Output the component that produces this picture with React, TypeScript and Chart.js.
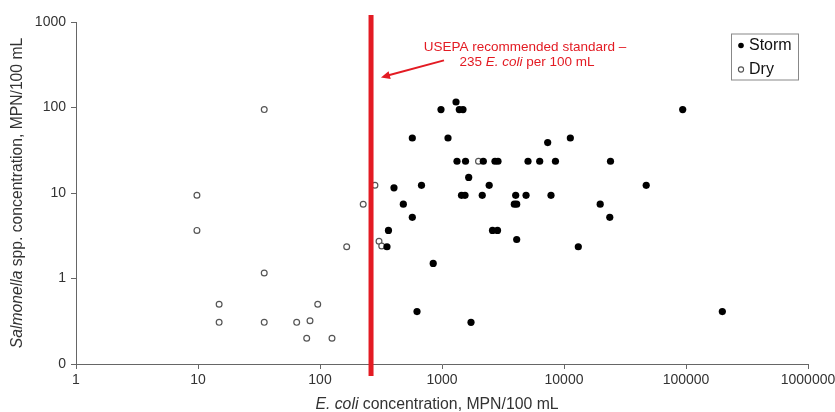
import React, { useEffect, useRef } from "react";
import { Chart, registerables } from "chart.js";

Chart.register(...registerables);

// Axis ticks
const xTicks = [1, 10, 100, 1000, 10000, 100000, 1000000];
const yTicks = [0.1, 1, 10, 100, 1000];
const yTickLabels = ["0", "1", "10", "100", "1000"];

// Storm samples: E. coli (x) and Salmonella (y), MPN/100 mL
const stormX = [
  1303, 981, 1386, 1486, 93970, 571, 1120, 7350, 11270, 1327, 1559, 2181, 2718, 2877, 5070, 6322,
  8511, 24050, 1655, 404, 679, 2437, 47200, 1445, 1544, 2137, 4018, 4885, 7823, 482, 3915, 4095,
  19800, 23730, 364, 2594, 2851, 4095, 354, 13100, 847, 624, 1729, 198500, 571,
];
const stormY = [
  116, 94.5, 94.5, 94.5, 94.5, 44, 44, 38.9, 44, 23.5, 23.5, 23.5, 23.5, 23.5, 23.5, 23.5,
  23.5, 23.5, 15.2, 11.5, 12.3, 12.3, 12.3, 9.4, 9.4, 9.4, 9.4, 9.4, 9.4, 7.4, 7.4, 7.4,
  7.4, 5.2, 3.65, 3.65, 3.65, 2.86, 2.35, 2.35, 1.5, 0.41, 0.307, 0.41, 5.2,
];

// Dry weather samples
const dryX = [34.9, 9.8, 226, 282, 9.8, 165.5, 304.6, 320.5, 34.9, 14.9, 95.8, 14.9, 34.9, 64.4, 82.8, 77.8, 125.4, 1991];
const dryY = [94.5, 9.4, 7.4, 12.3, 3.65, 2.35, 2.73, 2.4, 1.16, 0.5, 0.5, 0.307, 0.307, 0.307, 0.32, 0.2, 0.2, 23.5];

// USEPA standard line (drawn position) and annotation anchors (data coords)
const standardLine = 262;
const arrowTip = { x: 316, y: 225 };
const arrowTail = { x: 1038, y: 356 };
const noteLine1 = { x: 4790, y: 519 };
const noteLine2 = { x: 4790, y: 337 };

const RED = "#e31b23";
const TEXT = "#333333";
const AXIS = "#666666";
const FONT = "Liberation Sans, Arial, Helvetica, sans-serif";

type Seg = { t: string; italic?: boolean };

function drawSegs(ctx: CanvasRenderingContext2D, segs: Seg[], size: number, cx: number, cy: number, align: "center" | "left") {
  const widths = segs.map((s) => {
    ctx.font = `${s.italic ? "italic " : ""}${size}px ${FONT}`;
    return ctx.measureText(s.t).width;
  });
  const total = widths.reduce((a, b) => a + b, 0);
  let x = align === "center" ? cx - total / 2 : cx;
  ctx.textBaseline = "middle";
  ctx.textAlign = "left";
  segs.forEach((s, i) => {
    ctx.font = `${s.italic ? "italic " : ""}${size}px ${FONT}`;
    ctx.fillText(s.t, x, cy);
    x += widths[i];
  });
}

const overlayPlugin = {
  id: "overlay",
  afterDatasetsDraw(chart: any) {
    const { ctx, chartArea, scales } = chart;
    const xs = scales.x;
    const ys = scales.y;
    ctx.save();
    // red standard line
    const lx = xs.getPixelForValue(standardLine);
    ctx.fillStyle = RED;
    ctx.fillRect(lx - 2.5, chartArea.top - 7, 5, chartArea.bottom - chartArea.top + 19);

    // arrow
    const tx = xs.getPixelForValue(arrowTip.x);
    const ty = ys.getPixelForValue(arrowTip.y);
    const sx = xs.getPixelForValue(arrowTail.x);
    const sy = ys.getPixelForValue(arrowTail.y);
    const ang = Math.atan2(ty - sy, tx - sx);
    ctx.strokeStyle = RED;
    ctx.lineWidth = 2;
    ctx.beginPath();
    ctx.moveTo(sx, sy);
    ctx.lineTo(tx - 6 * Math.cos(ang), ty - 6 * Math.sin(ang));
    ctx.stroke();
    ctx.beginPath();
    ctx.moveTo(tx, ty);
    ctx.lineTo(tx - 9 * Math.cos(ang) + 4 * Math.sin(ang), ty - 9 * Math.sin(ang) - 4 * Math.cos(ang));
    ctx.lineTo(tx - 9 * Math.cos(ang) - 4 * Math.sin(ang), ty - 9 * Math.sin(ang) + 4 * Math.cos(ang));
    ctx.closePath();
    ctx.fill();

    // annotation text
    ctx.fillStyle = RED;
    drawSegs(ctx, [{ t: "USEPA recommended standard \u2013" }], 13.5, xs.getPixelForValue(noteLine1.x), ys.getPixelForValue(noteLine1.y) + 0.5, "center");
    drawSegs(ctx, [{ t: "235 " }, { t: "E. coli", italic: true }, { t: " per 100 mL" }], 13.5, xs.getPixelForValue(noteLine2.x) + 2, ys.getPixelForValue(noteLine2.y), "center");

    // legend box
    const bx = chartArea.right - 77;
    const by = chartArea.top + 11.5;
    ctx.strokeStyle = "#888888";
    ctx.lineWidth = 1;
    ctx.strokeRect(bx + 0.5, by + 0.5, 67, 46);
    ctx.fillStyle = "#000";
    ctx.beginPath();
    ctx.arc(bx + 10, by + 12, 2.8, 0, Math.PI * 2);
    ctx.fill();
    ctx.strokeStyle = "#555";
    ctx.lineWidth = 1.1;
    ctx.beginPath();
    ctx.arc(bx + 10, by + 36, 2.6, 0, Math.PI * 2);
    ctx.stroke();
    ctx.fillStyle = "#111";
    drawSegs(ctx, [{ t: "Storm" }], 16, bx + 18, by + 12, "left");
    drawSegs(ctx, [{ t: "Dry" }], 16, bx + 18, by + 36, "left");

    // axis titles
    ctx.fillStyle = TEXT;
    drawSegs(
      ctx,
      [{ t: "E. coli", italic: true }, { t: " concentration, MPN/100 mL" }],
      15.8,
      (chartArea.left + chartArea.right) / 2 - 5,
      chartArea.bottom + 41,
      "center"
    );
    ctx.translate(18, (chartArea.top + chartArea.bottom) / 2);
    ctx.rotate(-Math.PI / 2);
    drawSegs(ctx, [{ t: "Salmonella", italic: true }, { t: " spp. concentration, MPN/100 mL" }], 15.7, 0, 0, "center");
    ctx.restore();
  },
};

export default function App() {
  const ref = useRef<HTMLCanvasElement | null>(null);
  useEffect(() => {
    if (!ref.current) return;
    const storm = stormX.map((x, i) => ({ x, y: stormY[i] }));
    const dry = dryX.map((x, i) => ({ x, y: dryY[i] }));
    const chart = new Chart(ref.current, {
      type: "scatter",
      data: {
        datasets: [
          {
            label: "Storm",
            data: storm,
            pointRadius: 3.6,
            pointBackgroundColor: "#000",
            pointBorderColor: "#000",
            pointBorderWidth: 0,
          },
          {
            label: "Dry",
            data: dry,
            pointRadius: 2.9,
            pointBackgroundColor: "#fff",
            pointBorderColor: "#555",
            pointBorderWidth: 1.2,
          },
        ],
      },
      options: {
        animation: false,
        responsive: false,
        layout: { padding: { top: 22, right: 27, left: 0, bottom: 0 } },
        plugins: { legend: { display: false }, tooltip: { enabled: false }, title: { display: false } },
        scales: {
          x: {
            type: "logarithmic",
            min: 1,
            max: 1000000,
            afterBuildTicks: (s: any) => {
              s.ticks = xTicks.map((v) => ({ value: v }));
            },
            afterFit: (s: any) => {
              s.height = 48;
              s.paddingLeft = 0;
              s.paddingRight = 0;
            },
            ticks: {
              autoSkip: false,
              maxRotation: 0,
              padding: 3,
              color: TEXT,
              font: { family: FONT, size: 14 },
              callback: (v: any) => String(v),
            },
            grid: { drawOnChartArea: false, drawTicks: true, tickLength: 5, color: AXIS },
            border: { display: true, color: AXIS, width: 1 },
          },
          y: {
            type: "logarithmic",
            min: 0.1,
            max: 1000,
            afterBuildTicks: (s: any) => {
              s.ticks = yTicks.map((v) => ({ value: v }));
            },
            afterFit: (s: any) => {
              s.width = 76;
              s.paddingTop = 0;
              s.paddingBottom = 0;
            },
            ticks: {
              autoSkip: false,
              padding: 5,
              color: TEXT,
              font: { family: FONT, size: 14 },
              callback: (v: any) => {
                const i = yTicks.indexOf(Number(v));
                return i >= 0 ? yTickLabels[i] : "";
              },
            },
            grid: { drawOnChartArea: false, drawTicks: true, tickLength: 5, color: AXIS },
            border: { display: true, color: AXIS, width: 1 },
          },
        },
      },
      plugins: [overlayPlugin],
    });
    return () => chart.destroy();
  }, []);
  return (
    <div style={{ position: "absolute", left: 0, top: 0, width: 835, height: 412, background: "#fff" }}>
      <canvas ref={ref} width={835} height={412} style={{ width: 835, height: 412, display: "block" }} />
    </div>
  );
}
